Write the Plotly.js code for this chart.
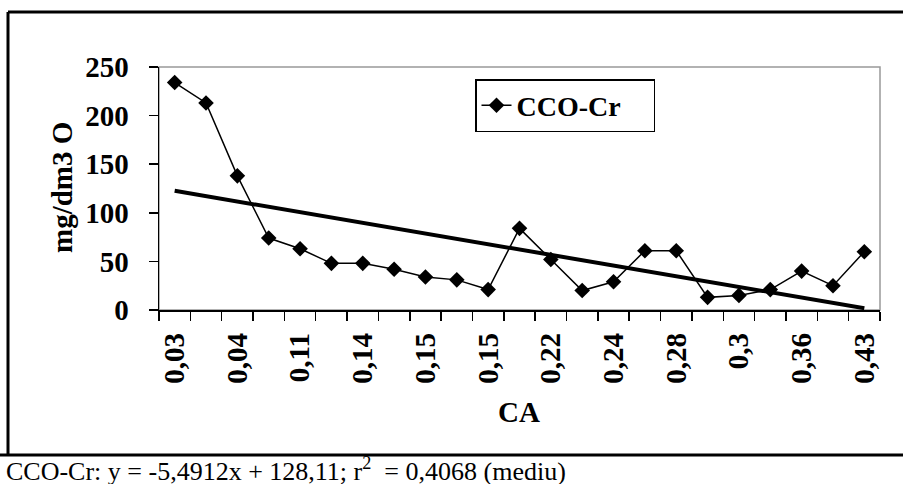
<!DOCTYPE html>
<html>
<head>
<meta charset="utf-8">
<script src="https://cdn.plot.ly/plotly-3.0.1.min.js"></script>
<style>html,body{margin:0;padding:0;background:#fff;}#chart{width:903px;height:484px;}</style>
</head>
<body>
<div id="chart"></div>
<script>
// Category positions (1..23) and the CA labels shown on every other category
var positions = [1,2,3,4,5,6,7,8,9,10,11,12,13,14,15,16,17,18,19,20,21,22,23];
var labelPositions = [1,3,5,7,9,11,13,15,17,19,21,23];
var labelTexts = ["0,03","0,04","0,11","0,14","0,15","0,15","0,22","0,24","0,28","0,3","0,36","0,43"];
var ccoCr = [234,213,138,74,63,48,48,42,34,31,21,84,52,20,29,61,61,13,15,21,40,25,60];
var seriesName = "CCO-Cr";
// Linear trend given in the footer: y = -5,4912x + 128,11
var trendSlope = -5.4912;
var trendIntercept = 128.11;
var trendX = [1, 23];
var trendY = trendX.map(function(x){ return trendSlope * x + trendIntercept; });
var minorTicks = [];
for (var i = 0; i <= positions.length; i++) minorTicks.push(i + 0.5);

var F = "'Liberation Serif'";
var L = 159, R = 880, T = 67, B = 310;
var W = R - L, H = B - T;
function px(x){ return (x - L) / W; }
function py(y){ return (B - y) / H; }

var traces = [
  {x: positions, y: ccoCr, name: seriesName, type: "scatter", mode: "lines+markers",
   line: {color: "#000", width: 1.5}, marker: {symbol: "diamond", size: 12, color: "#000"}},
  {x: trendX, y: trendY, type: "scatter", mode: "lines", showlegend: false,
   line: {color: "#000", width: 4}, hoverinfo: "skip"}
];

var layout = {
  width: 903, height: 484,
  margin: {l: L, r: 903 - R, t: T, b: 484 - B, pad: 0},
  paper_bgcolor: "#fff", plot_bgcolor: "#fff",
  font: {family: F, color: "#000"},
  showlegend: true,
  legend: {x: px(475), y: py(79), xanchor: "left", yanchor: "top",
    orientation: "h", entrywidth: 132,
    bordercolor: "#000", borderwidth: 1.5, bgcolor: "#fff",
    font: {family: F, size: 28, color: "#000", weight: "bold"},
    itemwidth: 30, tracegroupgap: 0},
  xaxis: {
    range: [0.5, 23.5], tickmode: "array", tickvals: labelPositions, ticktext: labelTexts,
    tickangle: -90, ticks: "", showgrid: false, zeroline: false,
    showline: true, linecolor: "#000", linewidth: 1.5,
    tickfont: {family: F, size: 29, color: "#000", weight: "bold"},
    ticklabelstandoff: 10,
    minor: {tickmode: "array", tickvals: minorTicks, ticks: "outside", ticklen: 9, tickwidth: 1.5, tickcolor: "#000", showgrid: false}
  },
  yaxis: {
    range: [0, 250], tickmode: "array", tickvals: [0,50,100,150,200,250],
    ticks: "outside", ticklen: 9, tickwidth: 1.5, tickcolor: "#000",
    ticklabelstandoff: 14,
    showgrid: false, zeroline: false, showline: true, linecolor: "#000", linewidth: 1.5,
    tickfont: {family: F, size: 29, color: "#000", weight: "bold"}
  },
  shapes: [
    {type: "rect", xref: "paper", yref: "paper", x0: 0, x1: 1, y0: 0, y1: 1,
     line: {color: "#999", width: 1.5}, layer: "below"},
    {type: "line", xref: "paper", yref: "paper", x0: px(8), x1: px(8), y0: py(12), y1: py(455), line: {color: "#000", width: 3}},
    {type: "line", xref: "paper", yref: "paper", x0: px(8), x1: px(910), y0: py(12), y1: py(12), line: {color: "#000", width: 3}},
    {type: "line", xref: "paper", yref: "paper", x0: px(0), x1: px(910), y0: py(455), y1: py(455), line: {color: "#000", width: 3}}
  ],
  annotations: [
    {text: "CA", xref: "paper", yref: "paper", x: px(519), y: py(412), xanchor: "center", yanchor: "middle",
     showarrow: false, font: {family: F, size: 29, color: "#000", weight: "bold"}},
    {text: "mg/dm3 O", xref: "paper", yref: "paper", x: px(62), y: py(188), xanchor: "center", yanchor: "middle",
     textangle: -90, showarrow: false, font: {family: F, size: 29, color: "#000", weight: "bold"}},
    {text: "CCO-Cr: y = -5,4912x + 128,11; r<sup>2</sup>  = 0,4068 (mediu)", xref: "paper", yref: "paper",
     x: px(4), y: py(469), xanchor: "left", yanchor: "middle",
     showarrow: false, font: {family: F, size: 26, color: "#000"}}
  ]
};

Plotly.newPlot("chart", traces, layout, {displayModeBar: false, staticPlot: true});
</script>
</body>
</html>
